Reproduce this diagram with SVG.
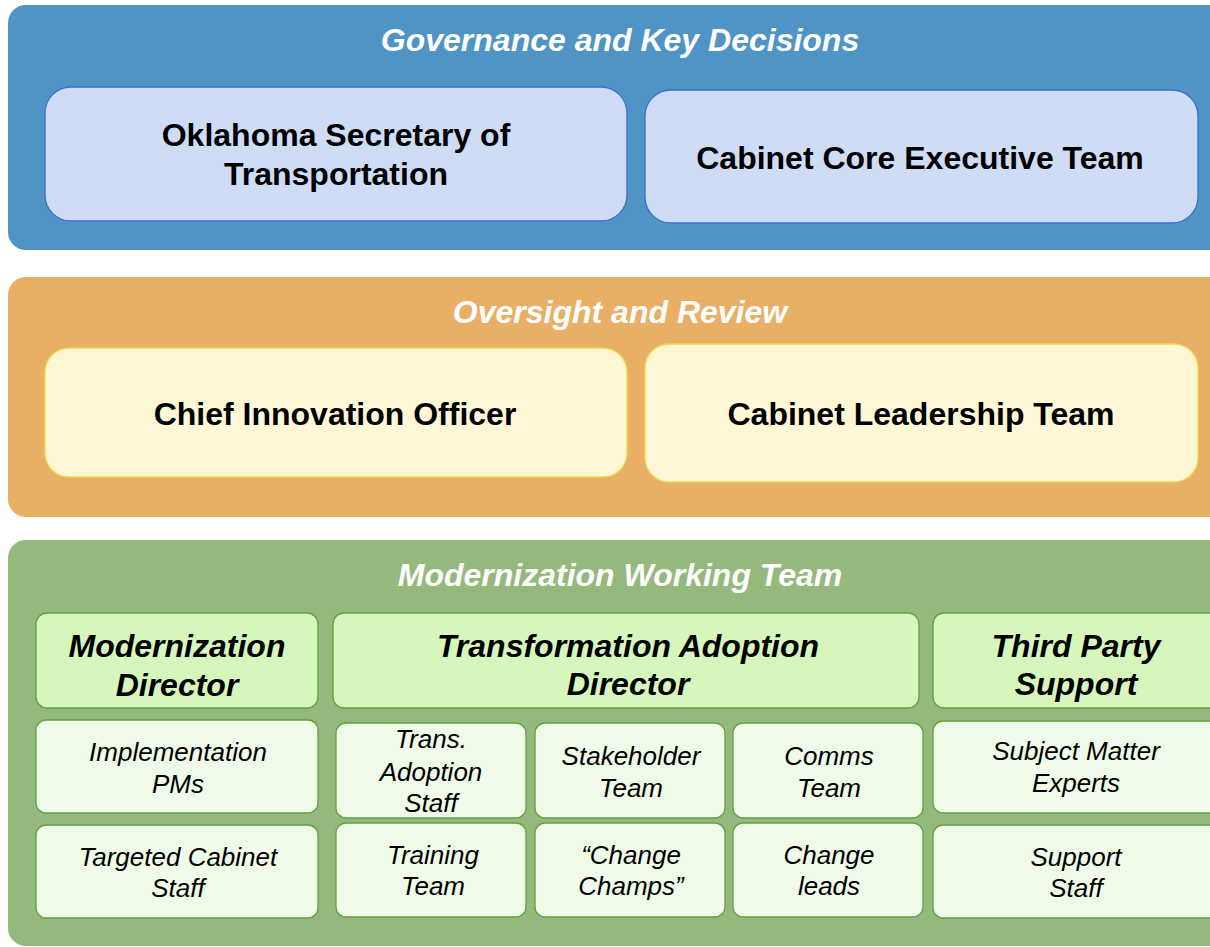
<svg xmlns="http://www.w3.org/2000/svg" width="1210" height="947" viewBox="0 0 1210 947">
<style>
.bg{fill:#ffffff}
.pblue{fill:#4f94c4}
.porange{fill:#e8b067}
.pgreen{fill:#95b97c}
.bbox{fill:#cfdcf6;stroke:#3d6fcf;stroke-width:1.3}
.ybox{fill:#fdf7d6;stroke:#f4d84a;stroke-width:1.3}
.gtop{fill:#d7f6bc;stroke:#62a040;stroke-width:1.3}
.gsub{fill:#effbe8;stroke:#62a040;stroke-width:1.3}
text{font-family:"Liberation Sans",Arial,sans-serif;text-anchor:middle}
.title{font-size:32px;font-weight:bold;font-style:italic;fill:#ffffff}
.lbl{font-size:32px;font-weight:bold;fill:#000000}
.hd{font-size:32px;font-weight:bold;font-style:italic;fill:#000000}
.sub{font-size:26px;font-style:italic;fill:#000000}
</style>
<rect class="bg" x="0" y="0" width="1210" height="947"/>

<g id="panel-governance">
<rect class="pblue" x="8" y="5" width="1230" height="245" rx="18"/>
<text class="title" x="620" y="51">Governance and Key Decisions</text>
</g>
<g id="node-secretary">
<rect class="bbox" x="45" y="87" width="582" height="134" rx="26"/>
<text class="lbl" x="336" y="146">Oklahoma Secretary of</text>
<text class="lbl" x="336" y="185">Transportation</text>
</g>
<g id="node-core-exec">
<rect class="bbox" x="645" y="90" width="553" height="133" rx="26"/>
<text class="lbl" x="920" y="169">Cabinet Core Executive Team</text>
</g>

<g id="panel-oversight">
<rect class="porange" x="8" y="277" width="1230" height="240" rx="18"/>
<text class="title" x="620" y="323">Oversight and Review</text>
</g>
<g id="node-cio">
<rect class="ybox" x="45" y="348" width="582" height="129" rx="24"/>
<text class="lbl" x="335" y="425">Chief Innovation Officer</text>
</g>
<g id="node-leadership">
<rect class="ybox" x="645" y="344" width="553" height="138" rx="24"/>
<text class="lbl" x="921" y="425">Cabinet Leadership Team</text>
</g>

<g id="panel-working">
<rect class="pgreen" x="8" y="540" width="1230" height="406" rx="18"/>
<text class="title" x="620" y="586">Modernization Working Team</text>
</g>

<g id="node-mod-director">
<rect class="gtop" x="36" y="613" width="282" height="95" rx="11"/>
<text class="hd" x="177" y="657">Modernization</text>
<text class="hd" x="177" y="696">Director</text>
</g>
<g id="node-ta-director">
<rect class="gtop" x="333" y="613" width="586" height="95" rx="11"/>
<text class="hd" x="628" y="657">Transformation Adoption</text>
<text class="hd" x="628" y="695">Director</text>
</g>
<g id="node-third-party">
<rect class="gtop" x="933" y="613" width="290" height="95" rx="11"/>
<text class="hd" x="1076" y="657">Third Party</text>
<text class="hd" x="1076" y="695">Support</text>
</g>

<g id="node-impl-pms">
<rect class="gsub" x="36" y="720" width="282" height="93" rx="10"/>
<text class="sub" x="178" y="761">Implementation</text>
<text class="sub" x="178" y="793">PMs</text>
</g>
<g id="node-ta-staff">
<rect class="gsub" x="336" y="723" width="190" height="95" rx="10"/>
<text class="sub" x="431" y="748">Trans.</text>
<text class="sub" x="431" y="781">Adoption</text>
<text class="sub" x="431" y="812">Staff</text>
</g>
<g id="node-stakeholder">
<rect class="gsub" x="535" y="723" width="190" height="95" rx="10"/>
<text class="sub" x="631" y="765">Stakeholder</text>
<text class="sub" x="631" y="797">Team</text>
</g>
<g id="node-comms">
<rect class="gsub" x="733" y="723" width="190" height="95" rx="10"/>
<text class="sub" x="829" y="765">Comms</text>
<text class="sub" x="829" y="797">Team</text>
</g>
<g id="node-sme">
<rect class="gsub" x="933" y="721" width="290" height="92" rx="10"/>
<text class="sub" x="1076" y="760">Subject Matter</text>
<text class="sub" x="1076" y="792">Experts</text>
</g>

<g id="node-targeted-staff">
<rect class="gsub" x="36" y="825" width="282" height="93" rx="10"/>
<text class="sub" x="178" y="866">Targeted Cabinet</text>
<text class="sub" x="178" y="897">Staff</text>
</g>
<g id="node-training">
<rect class="gsub" x="336" y="823" width="190" height="94" rx="10"/>
<text class="sub" x="433" y="864">Training</text>
<text class="sub" x="433" y="895">Team</text>
</g>
<g id="node-change-champs">
<rect class="gsub" x="535" y="823" width="190" height="94" rx="10"/>
<text class="sub" x="631" y="864">“Change</text>
<text class="sub" x="631" y="895">Champs”</text>
</g>
<g id="node-change-leads">
<rect class="gsub" x="733" y="823" width="190" height="94" rx="10"/>
<text class="sub" x="829" y="864">Change</text>
<text class="sub" x="829" y="895">leads</text>
</g>
<g id="node-support-staff">
<rect class="gsub" x="933" y="825" width="290" height="93" rx="10"/>
<text class="sub" x="1076" y="866">Support</text>
<text class="sub" x="1076" y="897">Staff</text>
</g>

<g id="connectors"></g>
</svg>
